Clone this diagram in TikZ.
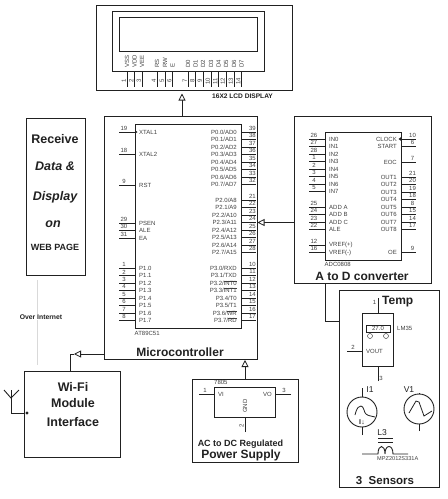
\documentclass[tikz,border=0pt]{standalone}
\usepackage{fontspec}
\setmainfont{Liberation Sans}
\usetikzlibrary{arrows.meta}
\definecolor{ink}{gray}{0.13}
\definecolor{small}{gray}{0.25}
\newcommand\ovl[1]{\leavevmode\setbox0\hbox{#1}\rlap{\raisebox{\dimexpr\ht0+0.35pt}{\rule{\wd0}{0.3pt}}}\box0}
\tikzset{
 box/.style={draw=ink,line width=1pt,fill=white,inner sep=0pt,anchor=north west},
 chip/.style={draw=ink,line width=0.9pt,fill=white,inner sep=0pt,anchor=north west},
 wire/.style={draw=ink,line width=0.8pt},
 flow/.style={draw=ink,line width=0.9pt,-{Triangle[open,fill=white,length=7pt,width=7pt,line width=0.8pt]}},
 plain/.style={draw=ink,line width=0.9pt},
 tiny/.style={font=\fontsize{6}{7}\selectfont,text=small,inner sep=0pt},
 big/.style={font=\fontsize{12}{14}\selectfont\bfseries,text=ink,inner sep=0pt},
 bigit/.style={font=\fontsize{12.5}{14}\selectfont\bfseries\itshape,text=ink,inner sep=0pt},
 mid/.style={font=\fontsize{9}{11}\selectfont\bfseries,text=ink,inner sep=0pt},
 dot/.style={circle,fill=ink,inner sep=0pt,minimum size=3.2pt},
}
% name, inner x, y, number, label
\newcommand\pinL[5]{%
 \coordinate (#1a) at (#2,#3); \coordinate (#1b) at (#2-16,#3);
 \draw[wire] (#1a) -- (#1b);
 \node[tiny] (#1n) at (#2-11,#3-3.6) {#4};
 \node[tiny,anchor=west] (#1t) at (#2+4,#3) {#5};}
\newcommand\pinR[5]{%
 \coordinate (#1a) at (#2,#3); \coordinate (#1b) at (#2+15,#3);
 \draw[wire] (#1a) -- (#1b);
 \node[tiny] (#1n) at (#2+11.5,#3-3.6) {#4};
 \node[tiny,anchor=east] (#1t) at (#2-4,#3) {#5};}
\newcommand\pinB[4]{%
 \coordinate (#1a) at (#2,71); \coordinate (#1b) at (#2,87);
 \draw[wire] (#1a) -- (#1b);
 \node[tiny,rotate=90] (#1n) at (#2-3.2,81) {#3};
 \node[tiny,rotate=90,anchor=west] (#1t) at (#2,68) {#4};}
\begin{document}
\begin{tikzpicture}[x=1pt,y=-1pt]
\useasboundingbox (0,0) rectangle (448,499);
\fill[white] (0,0) rectangle (448,499);

% LCD
\node[box,minimum width=196pt,minimum height=85pt] (lcd) at (96,5) {};
\node[chip,minimum width=152pt,minimum height=60pt] (lcdi) at (112,11) {};
\node[chip,line width=0.7pt,minimum width=138pt,minimum height=34pt] (lcds) at (119,17) {};
\pinB{l1}{127}{1}{VSS}\pinB{l2}{134.5}{2}{VDD}\pinB{l3}{142}{3}{VEE}
\pinB{l4}{157}{4}{RS}\pinB{l5}{165}{5}{RW}\pinB{l6}{172.5}{6}{E}
\pinB{l7}{188}{7}{D0}\pinB{l8}{195.5}{8}{D1}\pinB{l9}{203}{9}{D2}\pinB{l10}{211}{10}{D3}
\pinB{l11}{218.5}{11}{D4}\pinB{l12}{226}{12}{D5}\pinB{l13}{234}{13}{D6}\pinB{l14}{241.5}{14}{D7}
\node[font=\fontsize{6.6}{8}\selectfont\bfseries,text=ink,inner sep=0pt,anchor=west] (lcdt) at (212,96) {16X2 LCD DISPLAY};

% Left box
\node[box,minimum width=59pt,minimum height=157pt] (web) at (26,118) {};
\node[big,font=\fontsize{12.5}{14}\selectfont\bfseries] (w1) at (55,139) {Receive};
\node[bigit] (w2) at (55,166) {Data \&};
\node[bigit] (w3) at (55,197) {Display};
\node[bigit] (w4) at (53,224) {on};
\node[mid] (w5) at (55,247) {WEB PAGE};

% Internet link
\coordinate (ia) at (37,280); \coordinate (ib) at (37,365);
\draw[gray!30,line width=1pt] (ia) -- (ib);
\node[font=\fontsize{6.8}{8}\selectfont\bfseries,text=ink,fill=white,inner sep=1pt] (inet) at (41,317) {Over Internet};

% MCU
\node[box,minimum width=153pt,minimum height=243pt] (mcu) at (104,116) {};
\node[chip,minimum width=106pt,minimum height=204pt] (mcui) at (135,124) {};
\pinL{a19}{135}{132}{19}{XTAL1}\pinL{a18}{135}{154}{18}{XTAL2}\pinL{a9}{135}{185}{9}{RST}
\pinL{a29}{135}{223}{29}{PSEN}\pinL{a30}{135}{230.5}{30}{ALE}\pinL{a31}{135}{238}{31}{EA}
\pinL{a1}{135}{268}{1}{P1.0}\pinL{a2}{135}{275.5}{2}{P1.1}\pinL{a3}{135}{283}{3}{P1.2}\pinL{a4}{135}{290.5}{4}{P1.3}
\pinL{a5}{135}{298}{5}{P1.4}\pinL{a6}{135}{305.5}{6}{P1.5}\pinL{a7}{135}{313}{7}{P1.6}\pinL{a8}{135}{320.5}{8}{P1.7}
\pinR{b39}{241}{132}{39}{P0.0/AD0}\pinR{b38}{241}{139.5}{38}{P0.1/AD1}\pinR{b37}{241}{147}{37}{P0.2/AD2}\pinR{b36}{241}{154.5}{36}{P0.3/AD3}
\pinR{b35}{241}{162}{35}{P0.4/AD4}\pinR{b34}{241}{169.5}{34}{P0.5/AD5}\pinR{b33}{241}{177}{33}{P0.6/AD6}\pinR{b32}{241}{184.5}{32}{P0.7/AD7}
\pinR{b21}{241}{200}{21}{P2.0/A8}\pinR{b22}{241}{207.5}{22}{P2.1/A9}\pinR{b23}{241}{215}{23}{P2.2/A10}\pinR{b24}{241}{222.5}{24}{P2.3/A11}
\pinR{b25}{241}{230}{25}{P2.4/A12}\pinR{b26}{241}{237.5}{26}{P2.5/A13}\pinR{b27}{241}{245}{27}{P2.6/A14}\pinR{b28}{241}{252.5}{28}{P2.7/A15}
\pinR{b10}{241}{268}{10}{P3.0/RXD}\pinR{b11}{241}{275.5}{11}{P3.1/TXD}\pinR{b12}{241}{283}{12}{P3.2/\ovl{INT0}}\pinR{b13}{241}{290.5}{13}{P3.3/\ovl{INT1}}
\pinR{b14}{241}{298}{14}{P3.4/T0}\pinR{b15}{241}{305.5}{15}{P3.5/T1}\pinR{b16}{241}{313}{16}{P3.6/\ovl{WR}}\pinR{b17}{241}{320.5}{17}{P3.7/\ovl{RD}}
\fill[ink] (135,132) -- ++(2.5,0) -- ++(-2.5,-1.8) -- ++(-0,3.6) -- ++(2.5,-1.8);
\node[tiny,anchor=west] (mcun) at (134.5,333) {AT89C51};
\node[big] (mcut) at (180,352) {Microcontroller};

% ADC
\node[box,minimum width=137pt,minimum height=167pt] (adc) at (294,116) {};
\node[chip,minimum width=76pt,minimum height=128pt] (adci) at (325,132) {};
\pinL{c26}{325}{139}{26}{IN0}\pinL{c27}{325}{146.5}{27}{IN1}\pinL{c28}{325}{154}{28}{IN2}\pinL{c1}{325}{161.5}{1}{IN3}
\pinL{c2}{325}{169}{2}{IN4}\pinL{c3}{325}{176.5}{3}{IN5}\pinL{c4}{325}{184}{4}{IN6}\pinL{c5}{325}{191.5}{5}{IN7}
\pinL{c25}{325}{207}{25}{ADD A}\pinL{c24}{325}{214.5}{24}{ADD B}\pinL{c23}{325}{222}{23}{ADD C}\pinL{c22}{325}{229.5}{22}{ALE}
\pinL{c12}{325}{245}{12}{VREF(+)}\pinL{c16}{325}{252.5}{16}{VREF(-)}
\pinR{d10}{401}{139}{10}{CLOCK}\pinR{d6}{401}{146.5}{6}{START}\pinR{d7}{401}{162}{7}{EOC}
\pinR{d21}{401}{177}{21}{OUT1}\pinR{d20}{401}{184.5}{20}{OUT2}\pinR{d19}{401}{192}{19}{OUT3}\pinR{d18}{401}{199.5}{18}{OUT4}
\pinR{d8}{401}{207}{8}{OUT5}\pinR{d15}{401}{214.5}{15}{OUT6}\pinR{d14}{401}{222}{14}{OUT7}\pinR{d17}{401}{229.5}{17}{OUT8}
\pinR{d9}{401}{252.5}{9}{OE}
\fill[ink] (401,139) -- ++(-2.5,0) -- ++(2.5,-1.8) -- ++(0,3.6) -- ++(-2.5,-1.8);
\node[tiny,anchor=west] (adcn) at (324.5,264) {ADC0808};
\node[big] (adct) at (362,276) {A to D converter};

% Sensors
\node[box,minimum width=100pt,minimum height=197pt] (sens) at (339,290) {};
\node[big,anchor=west] (temp) at (382,302) {Temp};
\node[chip,minimum width=31pt,minimum height=53pt] (lm) at (362,313) {};
\coordinate (lmt) at (378,298); \coordinate (lmb) at (378,381); \coordinate (lml) at (347,351);
\draw[plain] (lmt) -- (lm.north -| lmt);
\draw[plain] (lmb) -- (lm.south -| lmb);
\draw[plain] (lml) -- (lm.west |- lml);
\node[tiny] (lm1) at (374.5,302) {1};
\node[tiny] (lm2) at (353,347.5) {2};
\node[tiny] (lm3) at (381,378) {3};
\node[chip,line width=0.6pt,minimum width=24pt,minimum height=7pt] (lmd) at (366,325) {};
\node[tiny] (lmv) at (378,328.5) {27.0};
\node[draw=ink,line width=0.4pt,circle,minimum size=5pt,inner sep=0pt] (lmc1) at (370,336) {};
\node[draw=ink,line width=0.4pt,circle,minimum size=5pt,inner sep=0pt] (lmc2) at (386,336) {};
\node[tiny,anchor=west] (lmo) at (366,351) {VOUT};
\node[tiny,anchor=west] (lmn) at (397,328) {LM35};

\node[draw=ink,line width=0.9pt,circle,minimum size=30pt,inner sep=0pt] (i1) at (362,412) {};
\coordinate (i1t) at (362,388); \coordinate (i1b) at (362,435);
\draw[plain] (i1t) -- (i1.north); \draw[plain] (i1b) -- (i1.south);
\draw[ink,line width=0.8pt] (355,415) .. controls (357,407) and (359,406) .. (361,406) .. controls (364,406) and (364,413) .. (366,414) .. controls (368,416) and (372,416) .. (375,417);
\node[font=\fontsize{7}{8}\selectfont\bfseries,text=ink,inner sep=0pt] (i1s) at (362,422) {I\kern0.5pt↓};
\node[font=\fontsize{8.5}{10}\selectfont,text=ink,inner sep=0pt] (i1l) at (370,390) {I1};

\node[draw=ink,line width=0.9pt,circle,minimum size=30pt,inner sep=0pt] (v1) at (419,409) {};
\coordinate (v1t) at (419,393); \coordinate (v1b) at (419,431);
\draw[plain] (v1t) -- (v1.north); \draw[plain] (v1b) -- (v1.south);
\draw[ink,line width=0.8pt] (409,413) -- (416,401) -- (419,402) -- (424,416) -- (432,411);
\node[font=\fontsize{8.5}{10}\selectfont,text=ink,inner sep=0pt] (v1l) at (409,390) {V1};

\node[font=\fontsize{8.5}{10}\selectfont,text=ink,inner sep=0pt] (l3) at (382,433) {L3};
\coordinate (l3a) at (378,438); \coordinate (l3b) at (393,438); \coordinate (l3c) at (378,442); \coordinate (l3d) at (393,442);
\draw[plain] (l3a) -- (l3b); \draw[plain] (l3c) -- (l3d);
\draw[ink,line width=0.9pt] (362,454) -- (378,454) .. controls (378,444) and (385,444) .. (385,454) .. controls (385,444) and (393,444) .. (393,454) -- (408,454);
\node[tiny,font=\fontsize{5.6}{7}\selectfont,anchor=west] (l3n) at (377,458.5) {MPZ2012S331A};
\node[big,font=\fontsize{11.5}{14}\selectfont\bfseries] (senst) at (385,481) {3\ \ Sensors};

% Wi-Fi
\node[box,minimum width=96pt,minimum height=86pt] (wifi) at (24,371) {};
\node[big,font=\fontsize{12.5}{14}\selectfont\bfseries] (f1) at (73,387) {Wi-Fi};
\node[big,font=\fontsize{12.5}{14}\selectfont\bfseries] (f2) at (73,403) {Module};
\node[big,font=\fontsize{12.5}{14}\selectfont\bfseries] (f3) at (73,422) {Interface};
\node[dot] (ant) at (27,413) {};
\coordinate (antc) at (11,413); \coordinate (anto) at (11,390); \coordinate (antl) at (4,390); \coordinate (antr) at (19,390); \coordinate (anty) at (11,398);
\draw[plain] (ant) -- (antc) -- (anto);
\draw[plain] (antl) -- (anty) -- (antr);

% Power supply
\node[box,minimum width=106pt,minimum height=83pt] (psu) at (192,379) {};
\node[chip,minimum width=61pt,minimum height=30pt] (reg) at (214,387) {};
\coordinate (rl) at (199,394); \coordinate (rr) at (291,394); \coordinate (rb) at (245,432);
\draw[plain] (rl) -- (reg.west |- rl);
\draw[plain] (rr) -- (reg.east |- rr);
\draw[plain] (rb) -- (reg.south -| rb);
\node[tiny] (r1) at (205,390.5) {1};
\node[tiny] (r3) at (284,390.5) {3};
\node[tiny,rotate=90] (r2) at (241.5,426) {2};
\node[tiny,anchor=west] (rvi) at (218,394) {VI};
\node[tiny,anchor=east] (rvo) at (272,394) {VO};
\node[tiny,rotate=90] (rgnd) at (245,406) {GND};
\node[tiny,anchor=west] (rn) at (214,382) {7805};
\node[mid] (p1) at (240.5,444) {AC to DC Regulated};
\node[big] (p2) at (241,455) {Power Supply};

% Connectors between blocks
\coordinate (lcdtip) at (182,93.5);
\coordinate (mcutop) at (182,116);
\draw[flow] (mcutop) -- (lcdtip);
\coordinate (adcw) at (294,222.5); \coordinate (mcue) at (257.5,222.5);
\draw[flow] (adcw) -- (mcue);
\coordinate (psut) at (245,379); \coordinate (mcub) at (245,360);
\draw[flow] (psut) -- (mcub);
\coordinate (adcb) at (325,283); \coordinate (elb) at (325,321); \coordinate (sensw) at (339,321);
\draw[plain] (adcb) -- (elb) -- (sensw);
\coordinate (mcuw) at (104,354); \coordinate (wb) at (70,354); \coordinate (wift) at (70,371); \coordinate (wtip) at (74,354);
\draw[flow] (mcuw) -- (wtip);
\draw[plain] (wtip) -- (wb) -- (wift);
\end{tikzpicture}
\end{document}
